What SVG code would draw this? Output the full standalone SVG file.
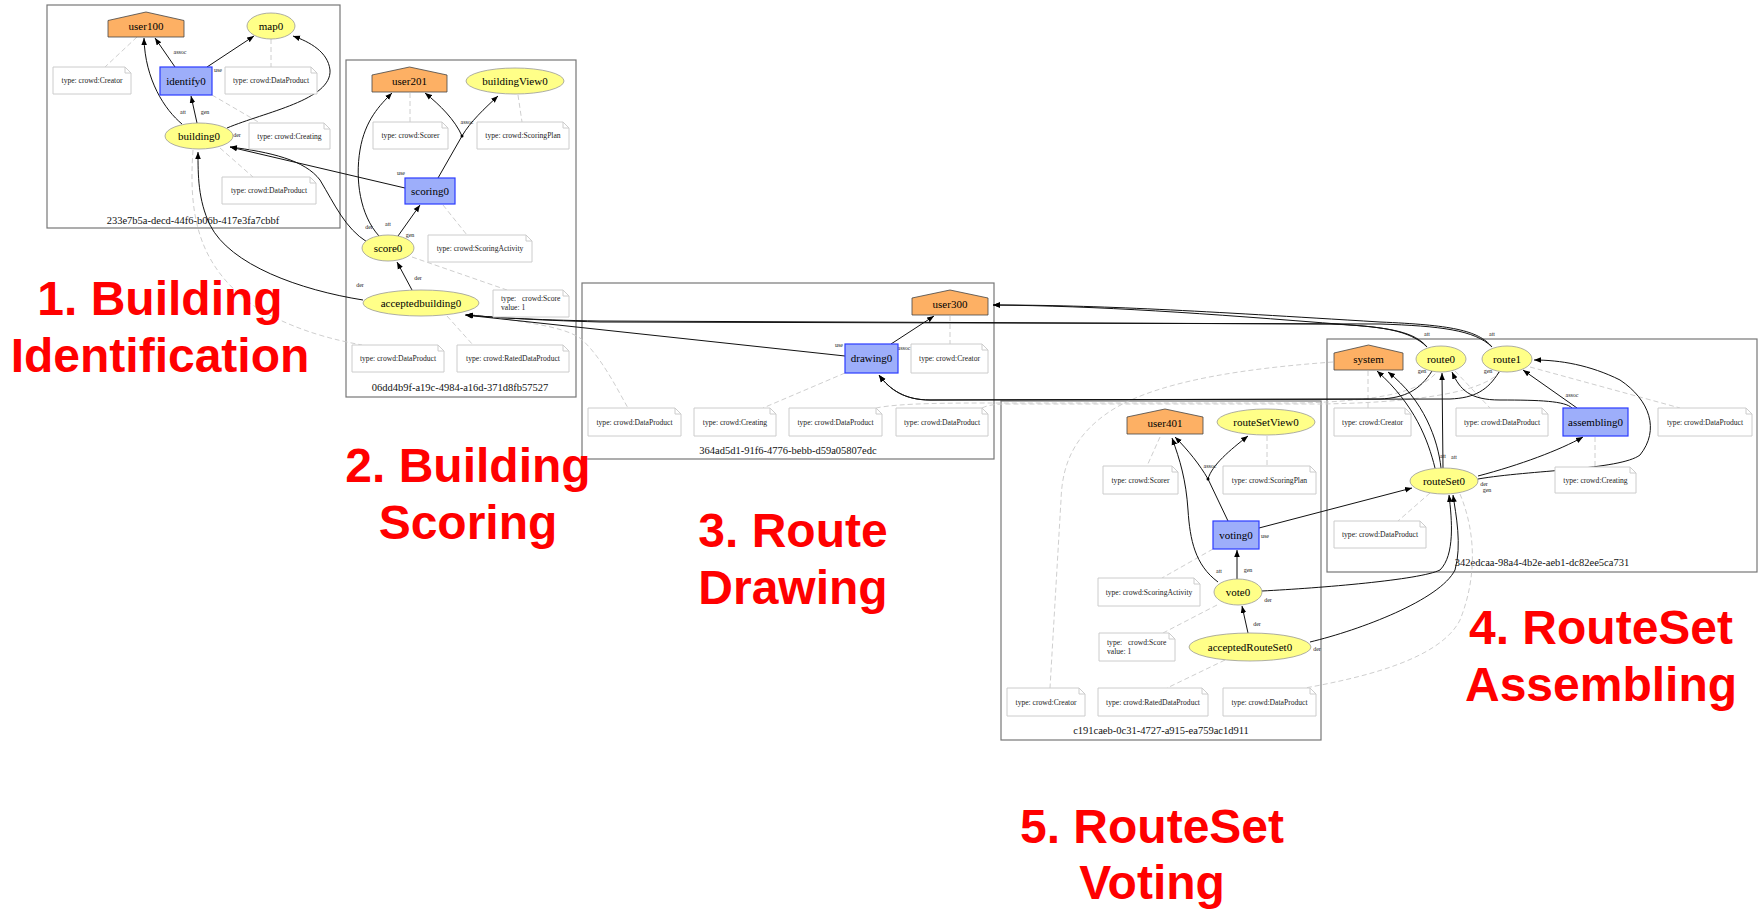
<svg xmlns="http://www.w3.org/2000/svg" width="1758" height="912" viewBox="0 0 1758 912">
<defs>
<marker id="ah" viewBox="0 0 10 10" refX="10" refY="5" markerWidth="7" markerHeight="7" markerUnits="userSpaceOnUse" orient="auto"><path d="M0,1 L10,5 L0,9 Z" fill="#000"/></marker>
<style>
.cl{fill:none;stroke:#777;stroke-width:1.2}
.cll{font-family:"Liberation Serif",serif;font-size:10.5px;fill:#111;text-anchor:middle}
.h{fill:#FDB064;stroke:#444;stroke-width:0.8}
.el{fill:#FFFF88;stroke:#999;stroke-width:0.8}
.rc{fill:#9DAEFA;stroke:#2B3BFF;stroke-width:1.2}
.nt{fill:#fff;stroke:#CCC;stroke-width:1}
.nl{font-family:"Liberation Serif",serif;font-size:11px;text-anchor:middle;fill:#000}
.tt{font-family:"Liberation Serif",serif;font-size:7.6px;text-anchor:middle;fill:#222}
.ts{font-family:"Liberation Serif",serif;font-size:7.6px;fill:#222}
.ed{fill:none;stroke:#111;stroke-width:1;marker-end:url(#ah)}
.ln{fill:none;stroke:#111;stroke-width:1}
.dl{fill:none;stroke:#C8C8C8;stroke-width:0.9;stroke-dasharray:5,3}
.lb{font-family:"Liberation Serif",serif;font-size:6px;text-anchor:middle;fill:#222}
.big{font-family:"Liberation Sans",Arial,sans-serif;font-weight:bold;font-size:48px;fill:#FF0000;text-anchor:middle}
</style>
</defs>
<rect width="1758" height="912" fill="#fff"/>

<!-- clusters -->
<g id="cluster1"><rect class="cl" x="47" y="5" width="293" height="223"/><text class="cll" x="193" y="224">233e7b5a-decd-44f6-b06b-417e3fa7cbbf</text></g>
<g id="cluster2"><rect class="cl" x="346" y="60" width="230" height="337"/><text class="cll" x="460" y="391">06dd4b9f-a19c-4984-a16d-371d8fb57527</text></g>
<g id="cluster3"><rect class="cl" x="582" y="283" width="412" height="176"/><text class="cll" x="788" y="454">364ad5d1-91f6-4776-bebb-d59a05807edc</text></g>
<g id="cluster4"><rect class="cl" x="1327" y="339" width="430" height="233"/><text class="cll" x="1542" y="566">342edcaa-98a4-4b2e-aeb1-dc82ee5ca731</text></g>
<g id="cluster5"><rect class="cl" x="1001" y="401" width="320" height="339"/><text class="cll" x="1161" y="734">c191caeb-0c31-4727-a915-ea759ac1d911</text></g>

<!-- dashed note links -->
<g id="notelinks">
<path class="dl" d="M137,37L105,67"/>
<path class="dl" d="M271,39V67"/>
<path class="dl" d="M212,95L260,123"/>
<path class="dl" d="M220,148L253,177"/>
<path class="dl" d="M193,150C188,220 200,270 260,310C300,332 335,340 362,345"/>
<path class="dl" d="M410,93V122"/>
<path class="dl" d="M518,95L522,122"/>
<path class="dl" d="M443,205L467,235"/>
<path class="dl" d="M412,257L507,290"/>
<path class="dl" d="M447,316L473,345"/>
<path class="dl" d="M470,314C520,322 560,325 580,338C600,355 615,385 628,408"/>
<path class="dl" d="M950,316V344"/>
<path class="dl" d="M845,373L763,408"/>
<path class="dl" d="M876,408C900,403 950,403 1000,403L1300,403C1380,401 1420,392 1437,372"/>
<path class="dl" d="M982,408C990,404 1000,404 1010,404L1320,404C1400,403 1480,395 1500,372"/>
<path class="dl" d="M1368,371V408"/>
<path class="dl" d="M1455,371L1490,408"/>
<path class="dl" d="M1530,367L1680,408"/>
<path class="dl" d="M1595,437V467"/>
<path class="dl" d="M1430,493L1398,521"/>
<path class="dl" d="M1333,362C1250,368 1160,380 1112,410C1070,437 1062,470 1061,500L1050,688"/>
<path class="dl" d="M1460,494C1475,530 1478,575 1460,620C1440,660 1360,678 1305,688"/>
<path class="dl" d="M1160,437L1147,466"/>
<path class="dl" d="M1267,436V466"/>
<path class="dl" d="M1213,549L1162,578"/>
<path class="dl" d="M1217,605L1163,633"/>
<path class="dl" d="M1225,660L1167,688"/>
</g>

<!-- connectors -->
<g id="connectors">
<path class="ed" d="M175,67L155,38"/>
<path class="ed" d="M207,67L254,36"/>
<path class="ed" d="M182,124C165,110 145,80 144,38"/>
<path class="ed" d="M197,123L191,96"/>
<path class="ed" d="M227,128C265,112 332,100 330,70C328,52 310,42 293,36"/>
<path class="ed" d="M405,188L230,147"/>
<path class="ed" d="M367,242C345,228 335,205 320,180C305,160 270,152 230,147"/>
<path class="ed" d="M363,300C300,290 230,265 210,225C198,200 198,175 198,152"/>
<path class="ln" d="M438,178L462,136"/>
<path class="ed" d="M462,136C455,120 440,105 425,93"/>
<path class="ed" d="M462,136C470,122 485,108 498,96"/>
<circle cx="462" cy="136" r="1.5" fill="#000"/>
<path class="ed" d="M379,236C360,215 355,180 360,150C365,120 380,105 392,93"/>
<path class="ed" d="M398,236L420,205"/>
<path class="ed" d="M412,290L397,262"/>
<path class="ed" d="M891,344L934,316"/>
<path class="ed" d="M845,356L465,315"/>
<path class="ed" d="M1427,347C1415,332 1390,328 1350,325C1200,313 1100,306 993,305"/>
<path class="ed" d="M1492,347C1478,330 1450,325 1380,322C1200,311 1100,305 993,305"/>
<path class="ed" d="M1427,347C1410,330 1380,326 1330,324L600,321C530,320 490,317 466,315"/>
<path class="ed" d="M1492,347C1475,330 1440,326 1380,324L600,322C530,320 490,317 466,315"/>
<path class="ed" d="M1432,371C1420,390 1405,398 1380,399L930,400C905,400 890,390 879,375"/>
<path class="ed" d="M1499,372C1488,390 1475,398 1450,399L930,400C905,400 890,390 879,375"/>
<path class="ed" d="M1572,408C1565,401 1540,400 1500,400C1470,400 1460,390 1452,372"/>
<path class="ed" d="M1577,408L1523,370"/>
<path class="ed" d="M1435,468C1428,440 1415,405 1377,371"/>
<path class="ed" d="M1441,468C1438,440 1424,400 1388,372"/>
<path class="ed" d="M1443,468L1442,373"/>
<path class="ed" d="M1478,476C1520,465 1560,450 1583,437"/>
<path class="ed" d="M1478,479C1530,470 1620,470 1640,455C1660,430 1650,400 1620,380C1590,365 1560,360 1534,360"/>
<path class="ln" d="M1228,521L1208,479"/>
<path class="ed" d="M1208,479C1200,465 1188,450 1175,437"/>
<path class="ed" d="M1208,479C1212,465 1230,450 1248,436"/>
<circle cx="1208" cy="479" r="1.5" fill="#000"/>
<path class="ed" d="M1218,582C1195,565 1190,540 1188,510C1186,480 1180,460 1172,438"/>
<path class="ed" d="M1237,579L1237,550"/>
<path class="ed" d="M1248,633L1242,606"/>
<path class="ed" d="M1259,528L1412,488"/>
<path class="ed" d="M1262,591C1320,588 1420,580 1440,570C1455,555 1452,520 1449,495"/>
<path class="ed" d="M1310,642C1360,630 1440,600 1455,570C1462,545 1456,515 1453,495"/>
</g>

<!-- edge labels -->
<g id="edgelabels">
<text class="lb" x="180" y="54">assoc</text><text class="lb" x="218" y="72">use</text><text class="lb" x="183" y="114">att</text><text class="lb" x="205" y="114">gen</text><text class="lb" x="237" y="137">der</text>
<text class="lb" x="401" y="175">use</text><text class="lb" x="467" y="124">assoc</text><text class="lb" x="388" y="226">att</text><text class="lb" x="369" y="229">der</text><text class="lb" x="410" y="237">gen</text><text class="lb" x="418" y="280">der</text><text class="lb" x="360" y="287">der</text>
<text class="lb" x="839" y="347">use</text><text class="lb" x="904" y="350">assoc</text>
<text class="lb" x="1427" y="336">att</text><text class="lb" x="1492" y="336">att</text>
<text class="lb" x="1422" y="373">gen</text><text class="lb" x="1488" y="373">gen</text><text class="lb" x="1572" y="397">assoc</text><text class="lb" x="1443" y="458">att</text><text class="lb" x="1454" y="459">att</text><text class="lb" x="1484" y="486">der</text><text class="lb" x="1487" y="492">gen</text>
<text class="lb" x="1210" y="468">assoc</text><text class="lb" x="1265" y="538">use</text><text class="lb" x="1219" y="573">att</text><text class="lb" x="1248" y="572">gen</text><text class="lb" x="1268" y="602">der</text><text class="lb" x="1257" y="626">der</text><text class="lb" x="1317" y="651">der</text>
</g>

<!-- cluster 1 nodes -->
<g id="user100"><path class="h" d="M108,37V20.5L146,12L184,20.5V37Z"/><text class="nl" x="146" y="30">user100</text></g>
<g id="map0"><ellipse class="el" cx="271" cy="26" rx="24" ry="13"/><text class="nl" x="271" y="29.5">map0</text></g>
<g id="identify0"><rect class="rc" x="160" y="67" width="52" height="28"/><text class="nl" x="186" y="85">identify0</text></g>
<g id="building0"><ellipse class="el" cx="199" cy="136" rx="34" ry="13"/><text class="nl" x="199" y="139.5">building0</text></g>
<g id="n1a"><path class="nt" d="M53,67h72l6,6v21h-78zM125,67v6h6"/><text class="tt" x="92" y="83">type: crowd:Creator</text></g>
<g id="n1b"><path class="nt" d="M225,67h86l6,6v21h-92zM311,67v6h6"/><text class="tt" x="271" y="83">type: crowd:DataProduct</text></g>
<g id="n1c"><path class="nt" d="M249,123h75l6,6v20h-81zM324,123v6h6"/><text class="tt" x="289.5" y="138.5">type: crowd:Creating</text></g>
<g id="n1d"><path class="nt" d="M222,177h88l6,6v21h-94zM310,177v6h6"/><text class="tt" x="269" y="193">type: crowd:DataProduct</text></g>

<!-- cluster 2 nodes -->
<g id="user201"><path class="h" d="M372,92V75L409.5,67L447,75V92Z"/><text class="nl" x="409.5" y="84.5">user201</text></g>
<g id="buildingView0"><ellipse class="el" cx="515" cy="81" rx="49" ry="13"/><text class="nl" x="515" y="84.5">buildingView0</text></g>
<g id="scoring0"><rect class="rc" x="405" y="178" width="50" height="26"/><text class="nl" x="430" y="195">scoring0</text></g>
<g id="score0"><ellipse class="el" cx="388" cy="248" rx="26" ry="13"/><text class="nl" x="388" y="251.5">score0</text></g>
<g id="acceptedbuilding0"><ellipse class="el" cx="421" cy="303" rx="58" ry="13"/><text class="nl" x="421" y="306.5">acceptedbuilding0</text></g>
<g id="n2a"><path class="nt" d="M373,122h69l6,6v21h-75zM442,122v6h6"/><text class="tt" x="410.5" y="138">type: crowd:Scorer</text></g>
<g id="n2b"><path class="nt" d="M477,122h86l6,6v21h-92zM563,122v6h6"/><text class="tt" x="523" y="138">type: crowd:ScoringPlan</text></g>
<g id="n2c"><path class="nt" d="M428,235h98l6,6v21h-104zM526,235v6h6"/><text class="tt" x="480" y="251">type: crowd:ScoringActivity</text></g>
<g id="n2d"><path class="nt" d="M493,290h70l6,6v21h-76zM563,290v6h6"/><text class="ts" x="501" y="301">type:<tspan x="522">crowd:Score</tspan></text><text class="ts" x="501" y="310">value: 1</text></g>
<g id="n2e"><path class="nt" d="M352,345h86l6,6v21h-92zM438,345v6h6"/><text class="tt" x="398" y="361">type: crowd:DataProduct</text></g>
<g id="n2f"><path class="nt" d="M457,345h106l6,6v21h-112zM563,345v6h6"/><text class="tt" x="513" y="361">type: crowd:RatedDataProduct</text></g>

<!-- cluster 3 nodes -->
<g id="user300"><path class="h" d="M912,315V298L950,290L988,298V315Z"/><text class="nl" x="950" y="307.5">user300</text></g>
<g id="drawing0"><rect class="rc" x="845" y="344" width="53" height="29"/><text class="nl" x="871.5" y="362">drawing0</text></g>
<g id="n3a"><path class="nt" d="M911,344h71l6,6v23h-77zM982,344v6h6"/><text class="tt" x="949.5" y="361">type: crowd:Creator</text></g>
<g id="n3b"><path class="nt" d="M588,408h87l6,6v22h-93zM675,408v6h6"/><text class="tt" x="634.5" y="424.5">type: crowd:DataProduct</text></g>
<g id="n3c"><path class="nt" d="M694,408h76l6,6v22h-82zM770,408v6h6"/><text class="tt" x="735" y="424.5">type: crowd:Creating</text></g>
<g id="n3d"><path class="nt" d="M789,408h87l6,6v22h-93zM876,408v6h6"/><text class="tt" x="835.5" y="424.5">type: crowd:DataProduct</text></g>
<g id="n3e"><path class="nt" d="M896,408h86l6,6v22h-92zM982,408v6h6"/><text class="tt" x="942" y="424.5">type: crowd:DataProduct</text></g>

<!-- cluster 4 nodes -->
<g id="system"><path class="h" d="M1334,370V353L1368.5,345L1403,353V370Z"/><text class="nl" x="1368.5" y="362.5">system</text></g>
<g id="route0"><ellipse class="el" cx="1441" cy="359" rx="25" ry="13"/><text class="nl" x="1441" y="362.5">route0</text></g>
<g id="route1"><ellipse class="el" cx="1507" cy="359" rx="25" ry="13"/><text class="nl" x="1507" y="362.5">route1</text></g>
<g id="assembling0"><rect class="rc" x="1563" y="408" width="65" height="28"/><text class="nl" x="1595.5" y="426">assembling0</text></g>
<g id="routeSet0"><ellipse class="el" cx="1444" cy="481" rx="34" ry="13"/><text class="nl" x="1444" y="484.5">routeSet0</text></g>
<g id="n4a"><path class="nt" d="M1334,408h71l6,6v22h-77zM1405,408v6h6"/><text class="tt" x="1372.5" y="424.5">type: crowd:Creator</text></g>
<g id="n4b"><path class="nt" d="M1456,408h86l6,6v22h-92zM1542,408v6h6"/><text class="tt" x="1502" y="424.5">type: crowd:DataProduct</text></g>
<g id="n4c"><path class="nt" d="M1658,408h88l6,6v22h-94zM1746,408v6h6"/><text class="tt" x="1705" y="424.5">type: crowd:DataProduct</text></g>
<g id="n4d"><path class="nt" d="M1555,467h75l6,6v20h-81zM1630,467v6h6"/><text class="tt" x="1595.5" y="482.5">type: crowd:Creating</text></g>
<g id="n4e"><path class="nt" d="M1334,521h86l6,6v21h-92zM1420,521v6h6"/><text class="tt" x="1380" y="537">type: crowd:DataProduct</text></g>

<!-- cluster 5 nodes -->
<g id="user401"><path class="h" d="M1127,434V417L1165,409L1203,417V434Z"/><text class="nl" x="1165" y="426.5">user401</text></g>
<g id="routeSetView0"><ellipse class="el" cx="1266" cy="422" rx="49" ry="13"/><text class="nl" x="1266" y="425.5">routeSetView0</text></g>
<g id="voting0"><rect class="rc" x="1213" y="521" width="46" height="28"/><text class="nl" x="1236" y="539">voting0</text></g>
<g id="vote0"><ellipse class="el" cx="1238" cy="592" rx="24" ry="13"/><text class="nl" x="1238" y="595.5">vote0</text></g>
<g id="acceptedRouteSet0"><ellipse class="el" cx="1250" cy="647" rx="61" ry="14"/><text class="nl" x="1250" y="650.5">acceptedRouteSet0</text></g>
<g id="n5a"><path class="nt" d="M1103,466h69l6,6v22h-75zM1172,466v6h6"/><text class="tt" x="1140.5" y="482.5">type: crowd:Scorer</text></g>
<g id="n5b"><path class="nt" d="M1223,466h87l6,6v22h-93zM1310,466v6h6"/><text class="tt" x="1269.5" y="482.5">type: crowd:ScoringPlan</text></g>
<g id="n5c"><path class="nt" d="M1098,578h96l6,6v22h-102zM1194,578v6h6"/><text class="tt" x="1149" y="594.5">type: crowd:ScoringActivity</text></g>
<g id="n5d"><path class="nt" d="M1099,633h70l6,6v22h-76zM1169,633v6h6"/><text class="ts" x="1107" y="645">type:<tspan x="1128">crowd:Score</tspan></text><text class="ts" x="1107" y="654">value: 1</text></g>
<g id="n5e"><path class="nt" d="M1007,688h72l6,6v22h-78zM1079,688v6h6"/><text class="tt" x="1046" y="704.5">type: crowd:Creator</text></g>
<g id="n5f"><path class="nt" d="M1098,688h104l6,6v22h-110zM1202,688v6h6"/><text class="tt" x="1153" y="704.5">type: crowd:RatedDataProduct</text></g>
<g id="n5g"><path class="nt" d="M1223,688h87l6,6v22h-93zM1310,688v6h6"/><text class="tt" x="1269.5" y="704.5">type: crowd:DataProduct</text></g>

<!-- stage labels -->
<g id="stages">
<text class="big" x="160" y="315">1. Building</text><text class="big" x="160" y="372">Identification</text>
<text class="big" x="468" y="482">2. Building</text><text class="big" x="468" y="539">Scoring</text>
<text class="big" x="793" y="547">3. Route</text><text class="big" x="793" y="604">Drawing</text>
<text class="big" x="1601" y="644">4. RouteSet</text><text class="big" x="1601" y="701">Assembling</text>
<text class="big" x="1152" y="843">5. RouteSet</text><text class="big" x="1152" y="899">Voting</text>
</g>
</svg>
